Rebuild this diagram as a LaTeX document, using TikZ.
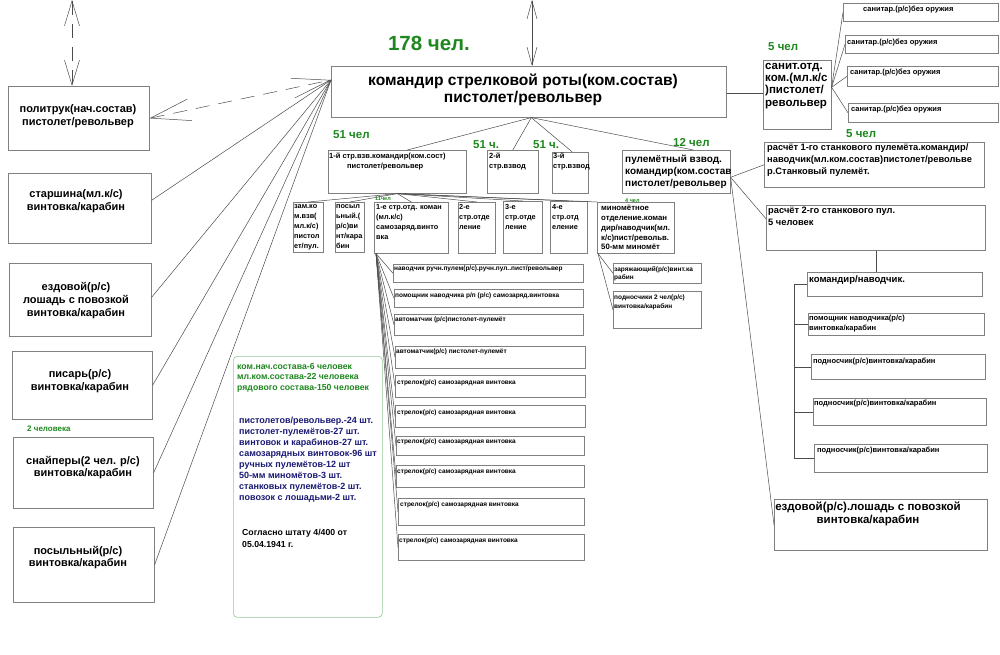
\documentclass[tikz,border=0pt]{standalone}
\usepackage{fontspec}
\setmainfont{Liberation Sans}
\usetikzlibrary{arrows.meta,calc}
\definecolor{grn}{RGB}{30,135,30}
\definecolor{nvy}{RGB}{25,25,115}
\definecolor{gbord}{RGB}{150,200,150}
\newcommand\myfs[2]{\fontsize{#1}{#2}\selectfont\bfseries}
\newcommand\mybox[6][]{\node[bxs,#1,minimum width={(#5-#3)*1pt},minimum height={(#6-#4)*1pt}] (#2) at (#3,#4) {};}
\newcommand\mytext[5][]{\node[txt,#1] (#2) at (#3,#4) {#5};}
\begin{document}
\begin{tikzpicture}[x=1pt,y=-1pt,
  bxs/.style={draw=black!50,line width=0.6pt,inner sep=0pt,anchor=north west},
  txt/.style={inner sep=0pt,anchor=north west,align=left},
  ctxt/.style={inner sep=0pt,anchor=north,align=center},
  ln/.style={draw=black!70,line width=0.5pt},
  gl/.style={text=grn,inner sep=0pt,anchor=base west},
  dsh/.style={dash pattern=on 14pt off 9pt}]
\useasboundingbox[fill=white] (0,0) rectangle (1000,654);

% ---- boxes
\mybox{pol}{8}{86}{149}{150}
\mybox{star}{8}{173}{151}{243}
\mybox{ezd}{9}{263}{151}{336}
\mybox{pis}{12}{351}{152}{419}
\mybox{sny}{13}{437}{153}{508}
\mybox{pos}{13}{527}{154}{602}
\mybox{cmd}{331}{66}{726}{117}
\mybox{san}{763}{60}{831}{129}
\mybox{sa1}{843}{3}{998}{21}
\mybox{sa2}{845}{35}{998}{53}
\mybox{sa3}{847}{66}{998}{86}
\mybox{sa4}{848}{103}{998}{122}
\mybox{r1}{764}{142}{984}{187}
\mybox{r2}{766}{205}{985}{250}
\mybox{kn}{807}{272}{982}{296}
\mybox{pm}{808}{313}{984}{335}
\mybox{pn1}{811}{354}{985}{379}
\mybox{pn2}{813}{398}{986}{425}
\mybox{pn3}{814}{444}{987}{472}
\mybox{ezb}{774}{499}{987}{550}
\mybox{p1}{328}{150}{466}{193}
\mybox{p2}{487}{150}{538}{193}
\mybox{p3}{552}{152}{588}{193}
\mybox{pul}{622}{150}{730}{193}
\mybox{zam}{293}{202}{323}{252}
\mybox{psl}{335}{202}{364}{252}
\mybox{e1}{374}{202}{448}{253}
\mybox{e2}{458}{202}{495}{253}
\mybox{e3}{503}{201}{542}{253}
\mybox{e4}{550}{201}{587}{253}
\mybox{mn}{597}{202}{674}{253}
\mybox{zr}{613}{263}{701}{283}
\mybox{pd}{613}{291}{701}{328}
\mybox{so1}{393}{264}{583}{282}
\mybox{so2}{394}{289}{583}{307}
\mybox{so3}{394}{314}{583}{335}
\mybox{so4}{395}{346}{585}{368}
\mybox{so5}{395}{375}{585}{397}
\mybox{so6}{395}{405}{585}{427}
\mybox{so7}{396}{436}{584}{455}
\mybox{so8}{396}{465}{584}{487}
\mybox{so9}{398}{498}{584}{525}
\mybox{so10}{398}{534}{584}{560}
\mybox[draw=gbord,rounded corners=4pt]{gb}{233}{356}{382}{617}

% ---- texts
\mytext[ctxt,font=\myfs{11}{13}]{polt}{78}{104}{политрук(нач.состав)\\пистолет/револьвер}
\mytext[ctxt,font=\myfs{11}{13.5}]{start}{76}{189}{старшина(мл.к/с)\\винтовка/карабин}
\mytext[ctxt,font=\myfs{11}{13}]{ezdt}{76}{282}{ездовой(р/с)\\лошадь с повозкой\\винтовка/карабин}
\mytext[ctxt,font=\myfs{11}{13}]{pist}{80}{369}{писарь(р/с)\\винтовка/карабин}
\mytext[ctxt,font=\myfs{11}{12.5}]{snyt}{83}{456}{снайперы(2 чел. р/с)\\винтовка/карабин}
\mytext[ctxt,font=\myfs{11}{12.5}]{post}{78}{546}{посыльный(р/с)\\винтовка/карабин}
\mytext[ctxt,font=\myfs{15.6}{17}]{cmdt}{523}{74}{командир стрелковой роты(ком.состав)\\пистолет/револьвер}
\mytext[font=\myfs{11.5}{12.3}]{sant}{765}{63}{санит.отд.\\ком.(мл.к/с\\)пистолет/\\револьвер}
\mytext[font=\myfs{7.5}{9}]{sa1t}{863}{6}{санитар.(р/с)без оружия}
\mytext[font=\myfs{7.5}{9}]{sa2t}{847}{39}{санитар.(р/с)без оружия}
\mytext[font=\myfs{7.5}{9}]{sa3t}{850}{69}{санитар.(р/с)без оружия}
\mytext[font=\myfs{7.5}{9}]{sa4t}{851}{106}{санитар.(р/с)без оружия}
\mytext[font=\myfs{9.3}{11.7}]{r1t}{767}{144}{расчёт 1-го станкового пулемёта.командир/\\наводчик(мл.ком.состав)пистолет/револьве\\р.Станковый пулемёт.}
\mytext[font=\myfs{9.3}{11.5}]{r2t}{768}{207}{расчёт 2-го станкового пул.\\5 человек}
\mytext[font=\myfs{9.5}{11}]{knt}{809}{275}{командир/наводчик.}
\mytext[font=\myfs{7.5}{9.5}]{pmt}{809}{315}{помощник наводчика(р/с)\\винтовка/карабин}
\mytext[font=\myfs{7.5}{9}]{pn1t}{813}{358}{подносчик(р/с)винтовка/карабин}
\mytext[font=\myfs{7.5}{9}]{pn2t}{814}{400}{подносчик(р/с)винтовка/карабин}
\mytext[font=\myfs{7.5}{9}]{pn3t}{817}{447}{подносчик(р/с)винтовка/карабин}
\mytext[ctxt,font=\myfs{11.5}{13}]{ezbt}{868}{502}{ездовой(р/с).лошадь с повозкой\\винтовка/карабин}
\mytext[font=\myfs{7.5}{10}]{p1t}{329}{153}{1-й стр.взв.командир(ком.сост)\\\hspace*{18pt}пистолет/револьвер}
\mytext[font=\myfs{7.5}{10}]{p2t}{489}{153}{2-й\\стр.взвод}
\mytext[font=\myfs{7.5}{10}]{p3t}{553}{153}{3-й\\стр.взвод}
\mytext[font=\myfs{10}{12}]{pult}{625}{155}{пулемётный взвод.\\командир(ком.состав\\пистолет/револьвер}
\mytext[font=\myfs{7.3}{10}]{zamt}{294}{204}{зам.ко\\м.взв(\\мл.к/с)\\пистол\\ет/пул.}
\mytext[font=\myfs{7.3}{10}]{pslt}{336}{204}{посыл\\ьный.(\\р/с)ви\\нт/кара\\бин}
\mytext[font=\myfs{7.3}{10}]{e1t}{376}{204}{1-е стр.отд. коман\\(мл.к/с)\\самозаряд.винто\\вка}
\mytext[font=\myfs{7.3}{10}]{e2t}{459}{204}{2-е\\стр.отде\\ление}
\mytext[font=\myfs{7.3}{10}]{e3t}{505}{204}{3-е\\стр.отде\\ление}
\mytext[font=\myfs{7.3}{10}]{e4t}{552}{204}{4-е\\стр.отд\\еление}
\mytext[font=\myfs{7.8}{9.8}]{mnt}{601}{205}{миномётное\\отделение.коман\\дир/наводчик(мл.\\к/с)пист/револьв.\\50-мм миномёт}
\mytext[font=\myfs{6.5}{8.5}]{zrt}{614}{266}{заряжающий(р/с)винт.ка\\рабин}
\mytext[font=\myfs{6.5}{8.5}]{pdt}{614}{295}{подносчики 2 чел(р/с)\\винтовка/карабин}
\mytext[font=\myfs{6.5}{8}]{so1t}{394}{266}{наводчик ручн.пулем(р/с).ручн.пул..пист/револьвер}
\mytext[font=\myfs{6.5}{8}]{so2t}{395}{293}{помощник наводчика р/п (р/с) самозаряд.винтовка}
\mytext[font=\myfs{6.5}{8}]{so3t}{395}{317}{автоматчик (р/с)пистолет-пулемёт}
\mytext[font=\myfs{6.5}{8}]{so4t}{396}{349}{автоматчик(р/с) пистолет-пулемёт}
\mytext[font=\myfs{6.5}{8}]{so5t}{397}{380}{стрелок(р/с) самозарядная винтовка}
\mytext[font=\myfs{6.5}{8}]{so6t}{397}{410}{стрелок(р/с) самозарядная винтовка}
\mytext[font=\myfs{6.5}{8}]{so7t}{397}{439}{стрелок(р/с) самозарядная винтовка}
\mytext[font=\myfs{6.5}{8}]{so8t}{397}{469}{стрелок(р/с) самозарядная винтовка}
\mytext[font=\myfs{6.5}{8}]{so9t}{400}{502}{стрелок(р/с) самозарядная винтовка}
\mytext[font=\myfs{6.5}{8}]{so10t}{399}{538}{стрелок(р/с) самозарядная винтовка}
\mytext[font=\myfs{8.7}{10.5},text=grn]{gbt1}{237}{363}{ком.нач.состава-6 человек\\мл.ком.состава-22 человека\\рядового состава-150 человек}
\mytext[font=\myfs{9}{10.9},text=nvy]{gbt2}{239}{417}{пистолетов/револьвер.-24 шт.\\пистолет-пулемётов-27 шт.\\винтовок и карабинов-27 шт.\\самозарядных винтовок-96 шт\\ручных пулемётов-12 шт\\50-мм миномётов-3 шт.\\станковых пулемётов-2 шт.\\повозок с лошадьми-2 шт.}
\mytext[font=\myfs{8.7}{11.5}]{gbt3}{242}{529}{Согласно штату 4/400 от\\05.04.1941 г.}

% ---- green labels
\node[gl,font=\myfs{20.5}{23},anchor=base] (tot) at (429,50) {178 чел.};
\node[gl,font=\myfs{11.5}{13}] (g5a) at (768,50) {5 чел};
\node[gl,font=\myfs{11.5}{13}] (g5b) at (846,137) {5 чел};
\node[gl,font=\myfs{11.5}{13}] (g51a) at (333,138) {51 чел};
\node[gl,font=\myfs{11.5}{13}] (g51b) at (473,148) {51 ч.};
\node[gl,font=\myfs{11.5}{13}] (g51c) at (533,148) {51 ч.};
\node[gl,font=\myfs{11.5}{13}] (g12) at (673,146) {12 чел};
\node[gl,font=\myfs{8}{9}] (g2) at (27,431) {2 человека};
\node[gl,font=\myfs{5.5}{6}] (g11) at (375,200) {11чел};
\node[gl,font=\myfs{5.5}{6}] (g4) at (625,202) {4 чел};

% ---- connectors
\coordinate (ptop) at (72,0);
\coordinate (ctop) at (532,0);
\coordinate (cmdL) at (331,80);
\coordinate (brk) at (794,0);
\draw[ln,dsh,{Straight Barb[length=25pt,width=15pt]}-{Straight Barb[length=25pt,width=15pt]}] (ptop) -- (ptop |- pol.north);
\draw[ln,{Straight Barb[length=18pt,width=10pt]}-{Straight Barb[length=18pt,width=10pt]}] (ctop) -- (ctop |- cmd.north);
\draw[ln,dsh,{Straight Barb[length=40pt,width=22pt]}-{Straight Barb[length=38pt,width=20pt]}] (pol.east) -- (cmdL);
\draw[ln] ([yshift=8pt]star.east) -- (cmdL);
\draw[ln] ([yshift=2.5pt]ezd.east) -- (cmdL);
\draw[ln] (pis.east) -- (cmdL);
\draw[ln] (sny.east) -- (cmdL);
\draw[ln] (pos.east) -- (cmdL);
\draw[ln] ([yshift=-1pt]cmd.east) -- ([yshift=-1pt]cmd.east -| san.west);
\coordinate (sanR) at ([yshift=7.5pt]san.east);
\foreach \t in {sa1,sa2,sa3,sa4} \draw[ln] (sanR) -- (\t.west);
\coordinate (cmdB) at ([xshift=2.5pt]cmd.south);
\draw[ln] (cmdB) -- ([xshift=10pt]p1.north);
\draw[ln] (cmdB) -- (p2.north);
\draw[ln] (cmdB) -- ([xshift=2pt]p3.north);
\draw[ln] (cmdB) -- ([xshift=17pt]pul.north);
\coordinate (p1B) at (p1.south);
\foreach \t in {zam,psl,e1,e2,e3,e4} \draw[ln] (p1B) -- (\t.north);
\draw[ln] (p1B) -- (mn.north west);
\coordinate (e1B) at ([xshift=2pt]e1.south west);
\foreach \t in {so1,so2,so3,so4,so5,so6,so7,so8,so9,so10} \draw[ln] (e1B) -- (\t.west);
\coordinate (mnB) at ([xshift=1pt]mn.south west);
\draw[ln] (mnB) -- (zr.west);
\draw[ln] (mnB) -- (pd.west);
\coordinate (pulR) at ([yshift=-5.5pt]pul.east);
\draw[ln] (pulR) -- (r1.west);
\draw[ln] (pulR) -- ([yshift=9pt]r2.west);
\draw[ln] (pulR) -- (ezb.west);
\draw[ln] (r2.south) -- (r2.south |- kn.north);
\draw[ln] (kn.west) -- (kn.west -| brk) -- (brk |- pn3.west) -- (pn3.west);
\foreach \t in {pm,pn1,pn2} \draw[ln] (\t.west -| brk) -- (\t.west);
\end{tikzpicture}
\end{document}
